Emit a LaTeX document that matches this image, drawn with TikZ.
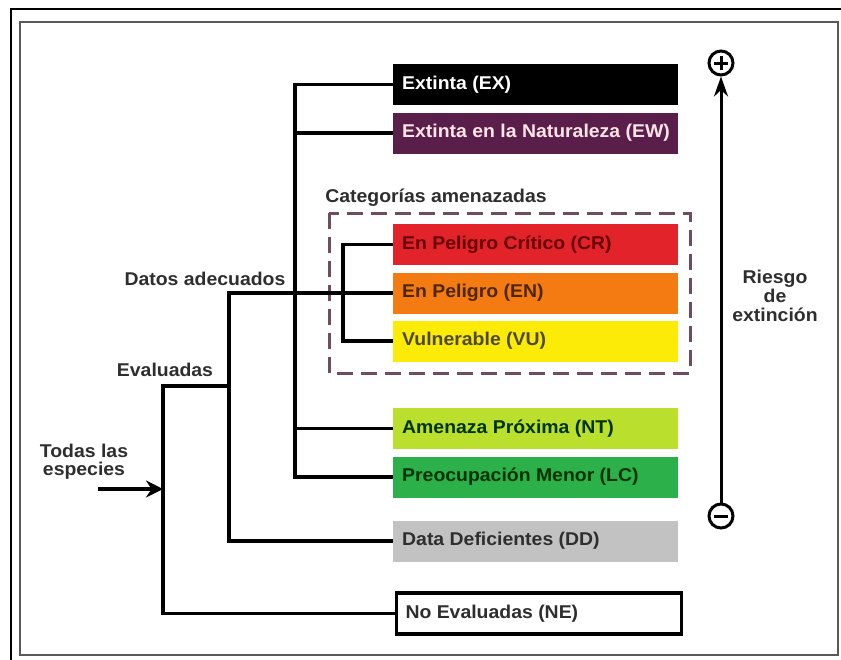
\documentclass[tikz,border=0pt]{standalone}
\usepackage{fontspec}
\setmainfont{Liberation Sans}[FakeStretch=1.05]
\usepackage{tikz}
\usetikzlibrary{arrows.meta,calc,positioning}
\definecolor{iucnink}{HTML}{2E2E2E}
\definecolor{iucnex}{HTML}{000000}
\definecolor{iucnew}{HTML}{5A1E4A}
\definecolor{iucncr}{HTML}{E2232A}
\definecolor{iucnen}{HTML}{F47A12}
\definecolor{iucnvu}{HTML}{FCEB07}
\definecolor{iucnnt}{HTML}{BADF2C}
\definecolor{iucnlc}{HTML}{2CB04A}
\definecolor{iucndd}{HTML}{C2C2C2}
\definecolor{iucnthreat}{HTML}{6E4E5E}
\newcommand{\catfont}{\fontsize{18.5}{21}\selectfont\bfseries}
\newcommand{\cattext}[1]{\makebox[274pt][l]{\hspace*{3.5pt}#1}}

\begin{document}
\begin{tikzpicture}[x=1pt,y=-1pt,line cap=butt,line join=miter,
  font=\catfont,text=iucnink,
  cat/.style={rectangle,anchor=west,minimum width=285pt,minimum height=41pt,
    inner xsep=5.5pt,inner ysep=0pt},
  link/.style={line width=3.5pt,black},
  lbl/.style={inner sep=1pt,align=center},
  pm/.style={circle,draw,line width=3pt,minimum size=24pt,inner sep=0pt}]
\useasboundingbox (0,0) rectangle (841,659);
\fill[white] (0,0) rectangle (841,659);
% marcos
\draw[black,line width=2.5pt] (11,9) rectangle (860,680);
\draw[black!65,line width=2pt] (20,22) rectangle (838,655);

% categorias
\node[cat,fill=iucnex,text=white] (ex) at (393,84.5) {\cattext{Extinta (EX)}};
\node[cat,fill=iucnew,text=pink!40] (ew) at (393,133) {\cattext{Extinta en la Naturaleza (EW)}};
\node[cat,fill=iucncr,text=red!40!black] (cr) at (393,244.5) {\cattext{En Peligro Crítico (CR)}};
\node[cat,fill=iucnen,text=orange!30!black] (en) at (393,293) {\cattext{En Peligro (EN)}};
\node[cat,fill=iucnvu,text=olive!40!black] (vu) at (393,341) {\cattext{Vulnerable (VU)}};
\node[cat,fill=iucnnt,text=green!20!black] (nt) at (393,428.5) {\cattext{Amenaza Próxima (NT)}};
\node[cat,fill=iucnlc,text=green!20!black] (lc) at (393,477) {\cattext{Preocupación Menor (LC)}};
\node[cat,fill=iucndd] (dd) at (393,541) {\cattext{Data Deficientes (DD)}};
\node[cat,draw=black,line width=3.5pt] (ne) at (394.75,613.5) {\cattext{No Evaluadas (NE)}};

% categorias amenazadas
\draw[iucnthreat,line width=3pt,dash pattern=on 16pt off 8pt] (329,213) rectangle (690,373);
\node[lbl] (threat) at (436,198) {Categorías amenazadas};

% etiquetas
\node[lbl] (adequate) at (205,279) {Datos adecuados};
\node[lbl] (evaluated) at (165,370) {Evaluadas};
\node[lbl] (all) at (84,462) {Todas las\\[-3pt]especies};

% arbol
\coordinate (spine) at (295,293);
\coordinate (thr) at (343,293);
\coordinate (adj) at (229,386);
\coordinate (root) at (163,386);
\coordinate (src) at (98,489);
\draw[link] (ex.west) -| (spine |- lc.west) -- (lc.west);
\draw[link] (ew.west) -- (ew.west -| spine);
\draw[link] (nt.west) -- (nt.west -| spine);
\draw[link] (cr.west) -| (thr |- vu.west) -- (vu.west);
\draw[link] (en.west) -| (adj |- dd.west) -- (dd.west);
\draw[link] (adj) -| (root |- ne.west) -- (ne.west);
\draw[link,-{Stealth[length=17pt,width=17pt]}] (src) -- (src -| root);

% riesgo
\node[pm] (plus) at (721,63) {};
\node[pm] (minus) at (721,516) {};
\draw[line width=3pt] ($(plus.center)+(-7,0)$) -- ($(plus.center)+(7,0)$);
\draw[line width=3pt] ($(plus.center)+(0,-7)$) -- ($(plus.center)+(0,7)$);
\draw[line width=3pt] ($(minus.center)+(-7,0)$) -- ($(minus.center)+(7,0)$);
\draw[line width=3pt,-{Stealth[length=20pt,width=14pt]}] (minus) -- (plus);
\node[lbl] (risk) at (775,296) {Riesgo\\[-2pt]de\\[-2pt]extinción};
\end{tikzpicture}
\end{document}
